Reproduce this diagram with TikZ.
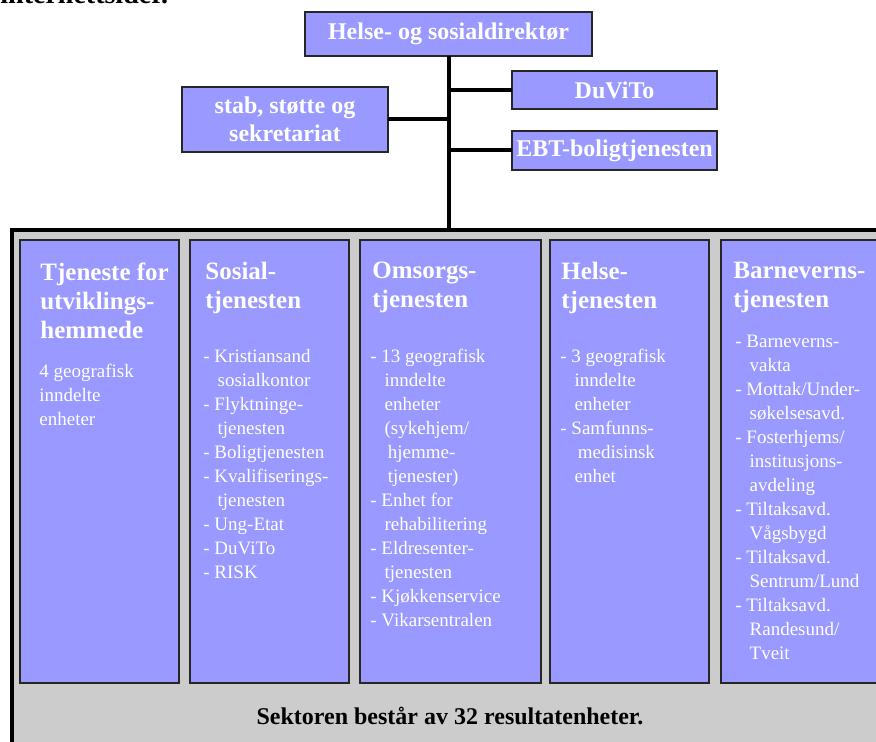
\documentclass[tikz,border=0pt]{standalone}
\usepackage{fontspec}
\setmainfont{Liberation Serif}
\usetikzlibrary{shadows}
\definecolor{boxblue}{RGB}{153,153,255}
\definecolor{sectgray}{RGB}{204,204,204}
\newcommand{\ind}{\hspace*{0.75em}}

\begin{document}
\begin{tikzpicture}[x=0.5pt, y=-0.5pt,
    orgbox/.style={draw=black!85, line width=0.8pt, fill=boxblue, inner sep=0pt, outer sep=0pt,
        drop shadow={shadow xshift=0.7pt, shadow yshift=-0.7pt, fill=black!70, opacity=1}},
    toptext/.style={text=white, align=center, font=\fontsize{12}{14}\selectfont\bfseries},
    colhead/.style={anchor=north west, inner sep=0pt, text=white, align=left,
        font=\fontsize{12.5}{14.5}\selectfont\bfseries},
    colbody/.style={anchor=north west, inner sep=0pt, text=white, align=left,
        font=\fontsize{9.5}{12}\selectfont},
    link/.style={line width=2pt, black}]

    \useasboundingbox (0,0) rectangle (876,742);
    \clip (0,0) rectangle (876,742);

    % Line of text above the chart (cut off)
    \node[anchor=base west, inner sep=0pt, font=\fontsize{14}{16}\selectfont\bfseries] (intro) at (0,4) {internettsider.};

    % Sector frame
    \node[draw=black, line width=2.4pt, fill=sectgray, inner sep=0pt, outer sep=0pt,
        anchor=north west, minimum width=460pt, minimum height=300pt] (sector) at (12,230) {};

    % Director and staff units
    \node[orgbox, toptext, minimum width=143.5pt, minimum height=22pt] (dir) at (448.5,34) {Helse- og sosialdirektør};
    \node[orgbox, toptext, minimum width=102.5pt, minimum height=19pt] (duvito) at (614.5,90) {DuViTo};
    \node[orgbox, toptext, minimum width=103pt, minimum height=32.5pt] (stab) at (285,119.5) {stab, støtte og\\sekretariat};
    \node[orgbox, toptext, minimum width=102.5pt, minimum height=19.5pt] (ebt) at (614.5,150.5) {EBT-boligtjenesten};

    % Trunk and branches
    \draw[link] (dir.south) -- (dir.south |- sector.north);
    \draw[link] (dir.south |- duvito.west) -- (duvito.west);
    \draw[link] (dir.south |- ebt.west) -- (ebt.west);
    \draw[link] (dir.south |- stab.east) -- (stab.east);

    % Service columns
    \foreach \name/\xa/\xb in {tuh/20/179, sos/190/349, oms/360/541, hel/550/709, bvt/721/900}
        \node[orgbox, anchor=north west, minimum width={(\xb-\xa)*0.5pt}, minimum height=221.5pt] (\name) at (\xa,240) {};

    % Column headings
    \node[colhead] (tuhhead) at ([shift={(20,22)}]tuh.north west) {Tjeneste for\\utviklings-\\hemmede};
    \node[colhead] (soshead) at ([shift={(15,22)}]sos.north west) {Sosial-\\tjenesten};
    \node[colhead] (omshead) at ([shift={(12,22)}]oms.north west) {Omsorgs-\\tjenesten};
    \node[colhead] (helhead) at ([shift={(11,22)}]hel.north west) {Helse-\\tjenesten};
    \node[colhead] (bvthead) at ([shift={(12,22)}]bvt.north west) {Barneverns-\\tjenesten};

    % Column contents
    \node[colbody] (tuhbody) at ([shift={(19,124)}]tuh.north west) {4 geografisk\\inndelte\\enheter};
    \node[colbody] (sosbody) at ([shift={(13,109)}]sos.north west)
        {- Kristiansand\\ \ind sosialkontor\\- Flyktninge-\\ \ind tjenesten\\- Boligtjenesten\\- Kvalifiserings-\\ \ind tjenesten\\- Ung-Etat\\- DuViTo\\- RISK};
    \node[colbody] (omsbody) at ([shift={(10,109)}]oms.north west)
        {- 13 geografisk\\ \ind inndelte\\ \ind enheter\\ \ind (sykehjem/\\ \ind\,hjemme-\\ \ind\,tjenester)\\- Enhet for\\ \ind rehabilitering\\- Eldresenter-\\ \ind tjenesten\\- Kjøkkenservice\\- Vikarsentralen};
    \node[colbody] (helbody) at ([shift={(10,109)}]hel.north west)
        {- 3 geografisk\\ \ind inndelte\\ \ind enheter\\- Samfunns-\\ \ind\,medisinsk\\ \ind enhet};
    \node[colbody] (bvtbody) at ([shift={(14,95)}]bvt.north west)
        {- Barneverns-\\ \ind vakta\\- Mottak/Under-\\ \ind søkelsesavd.\\- Fosterhjems/\\ \ind institusjons-\\ \ind avdeling\\- Tiltaksavd.\\ \ind Vågsbygd\\- Tiltaksavd.\\ \ind Sentrum/Lund\\- Tiltaksavd.\\ \ind Randesund/\\ \ind Tveit};

    % Summary line
    \node[inner sep=0pt, font=\fontsize{12}{14}\selectfont\bfseries] (total) at (450,716) {Sektoren består av 32 resultatenheter.};
\end{tikzpicture}
\end{document}
